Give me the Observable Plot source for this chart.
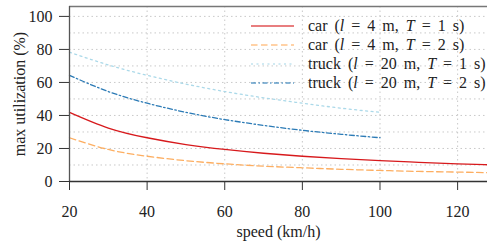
<!DOCTYPE html>
<html><head><meta charset="utf-8">
<script src="https://cdn.jsdelivr.net/npm/d3@7"></script>
<script src="https://cdn.jsdelivr.net/npm/@observablehq/plot@0.6"></script>
<style>body{margin:0;background:#fff}svg{font-family:"Liberation Serif",serif}</style>
</head><body><div id="chart"></div>
<script>
// speeds (km/h)
const speedsCar = [20,30,40,50,60,70,80,90,100,110,120,130];
const speedsTruck = [20,30,40,50,60,70,80,90,100];
// max utilization (%)
const carT1 = [41.9,32.4,26.5,22.4,19.4,17.1,15.3,13.8,12.6,11.6,10.7,10.0];
const carT2 = [26.5,19.4,15.3,12.6,10.7,9.3,8.3,7.4,6.7,6.1,5.7,5.2];
const truckT1 = [78.3,70.6,64.3,59.0,54.5,50.7,47.4,44.4,41.9];
const truckT2 = [64.3,54.5,47.4,41.9,37.5,34.0,31.0,28.6,26.5];
const xTicks = [20,40,60,80,100,120];
const yTicks = [0,20,40,60,80,100];
const yGrid = [10,20,30,40,50,60,70,80,90,100];

const series = [
  {name:"car", l:"4", T:"1", xs:speedsCar, ys:carT1, color:"#d7191c", dash:null, w:1.3},
  {name:"car", l:"4", T:"2", xs:speedsCar, ys:carT2, color:"#fdae61", dash:"6.5,3.5", w:1.3},
  {name:"truck", l:"20", T:"1", xs:speedsTruck, ys:truckT1, color:"#abd9e9", dash:"2,3.5", w:1.3},
  {name:"truck", l:"20", T:"2", xs:speedsTruck, ys:truckT2, color:"#2c7bb6", dash:"5,2.5,1.5,2.5", w:1.3}
];

const xMax = 127.7, yMax = 106;

const lineMarks = series.map(s => Plot.line(s.xs.map((x,i)=>({x, y:s.ys[i]})), {
  x:"x", y:"y", stroke:s.color, strokeWidth:s.w, strokeDasharray:s.dash, curve:"natural"
}));

function legend(index, scales, values, dimensions) {
  const g = d3.create("svg:g").attr("font-size", 16).attr("text-anchor", "start");
  const x0 = dimensions.width - dimensions.marginRight - 236;
  series.forEach((s,i) => {
    const y = dimensions.marginTop + 20 + i*19;
    g.append("line").attr("x1", x0).attr("x2", x0+43).attr("y1", y).attr("y2", y)
      .attr("stroke", s.color).attr("stroke-width", 1.3).attr("stroke-opacity", 0.75)
      .attr("stroke-dasharray", s.dash);
    const t = g.append("text").attr("x", x0+57).attr("y", y).attr("dy", "0.32em")
      .attr("fill","#222").attr("text-anchor","start").attr("word-spacing", "3px");
    t.append("tspan").text(s.name + " (");
    t.append("tspan").attr("font-style","italic").text("l");
    t.append("tspan").text(" = " + s.l + " m, ");
    t.append("tspan").attr("font-style","italic").text("T");
    t.append("tspan").text(" = " + s.T + " s)");
  });
  return g.node();
}

const chart = Plot.plot({
  width: 487, height: 244,
  marginLeft: 69, marginRight: 0, marginTop: 6, marginBottom: 63,
  style: {fontFamily: '"Liberation Serif", serif', fontSize: "16px", color:"#222", background:"#fff"},
  x: {domain:[20, xMax]},
  y: {domain:[0, yMax]},
  marks: [
    Plot.ruleX(xTicks.slice(1), {stroke:"#bbb", strokeDasharray:"1.5,3", strokeWidth:0.8}),
    Plot.ruleY(yGrid, {stroke:"#bbb", strokeDasharray:"1.5,3", strokeWidth:0.8}),
    Plot.ruleY([yMax], {stroke:"#777", strokeWidth:1.3}),
    ...lineMarks,
    Plot.ruleX([20], {stroke:"#555", strokeWidth:1.3}),
    Plot.ruleY([0], {stroke:"#333", strokeWidth:1.3}),
    Plot.axisX({ticks:xTicks, tickSize:9, tickPadding:15, label:null, stroke:"#333"}),
    Plot.axisY({ticks:yTicks, tickSize:10, tickPadding:7, label:null, stroke:"#333"}),
    Plot.text(["speed (km/h)"], {frameAnchor:"bottom", dy:50, lineAnchor:"middle", textAnchor:"middle", fontSize:16, fill:"#222"}),
    Plot.text(["max utilization (%)"], {frameAnchor:"left", dx:-50, rotate:-90, lineAnchor:"middle", textAnchor:"middle", fontSize:16, fill:"#222"}),
    legend
  ]
});
document.getElementById("chart").append(chart);
</script></body></html>
